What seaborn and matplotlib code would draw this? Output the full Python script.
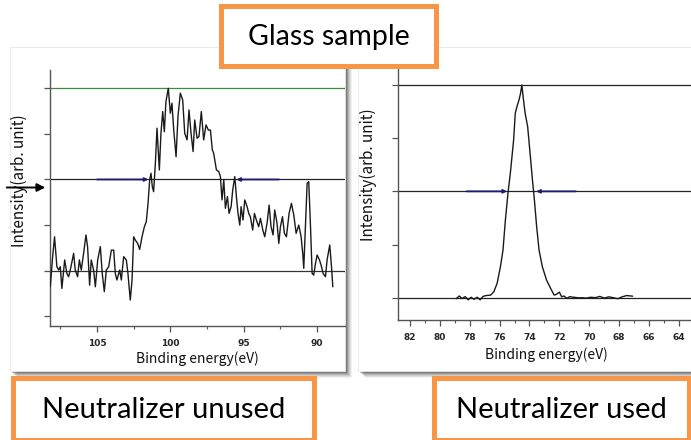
import matplotlib
matplotlib.use("Agg")
import matplotlib.pyplot as plt
import seaborn as sns
from matplotlib.patches import Rectangle, FancyArrowPatch

sns.set_style("white")
plt.rcParams['font.family'] = ['DejaVu Sans']

# ---------------- data ----------------
left_energy = [108.18, 108.02, 107.89, 107.73, 107.61, 107.5, 107.39, 107.2, 107.05, 106.93,
               106.77, 106.59, 106.48, 106.32, 106.2, 106.07, 105.91, 105.75, 105.64, 105.5,
               105.39, 105.23, 105.11, 104.95, 104.77, 104.64, 104.5, 104.36, 104.2, 104.02,
               103.86, 103.75, 103.64, 103.45, 103.34, 103.18, 103.0, 102.89, 102.73, 102.61,
               102.5, 102.39, 102.23, 102.09, 101.93, 101.77, 101.64, 101.52, 101.41, 101.32,
               101.23, 101.14, 101.02, 100.91, 100.84, 100.75, 100.64, 100.52, 100.41, 100.3,
               100.14, 100.0, 99.89, 99.77, 99.61, 99.48, 99.32, 99.16, 99.02, 98.86,
               98.73, 98.59, 98.45, 98.34, 98.18, 98.05, 97.89, 97.73, 97.57, 97.41,
               97.27, 97.14, 97.05, 96.86, 96.7, 96.59, 96.48, 96.36, 96.25, 96.11,
               96.0, 95.86, 95.75, 95.61, 95.5, 95.39, 95.27, 95.18, 95.05, 94.93,
               94.77, 94.66, 94.55, 94.39, 94.27, 94.14, 93.98, 93.86, 93.7, 93.57,
               93.41, 93.27, 93.14, 93.0, 92.89, 92.73, 92.61, 92.5, 92.36, 92.23,
               92.09, 91.91, 91.75, 91.59, 91.43, 91.25, 91.09, 90.98, 90.91, 90.8,
               90.68, 90.57, 90.45, 90.34, 90.23, 90.11, 90.0, 89.84, 89.73, 89.59,
               89.43, 89.32, 89.14, 89.02, 88.93]
left_intensity = [-0.088, 0.077, 0.186, 0.022, 0.004, 0.022, -0.097, 0.059, -0.015, -0.033,
                  0.022, 0.095, 0.004, -0.033, 0.059, 0.004, 0.095, 0.196, 0.132, -0.079,
                  0.059, 0.004, -0.088, 0.059, 0.132, -0.015, -0.115, 0.004, 0.022, 0.113,
                  0.113, -0.015, -0.051, 0.004, -0.051, 0.077, 0.059, -0.015, -0.161, -0.051,
                  0.186, 0.168, 0.15, 0.117, 0.186, 0.241, 0.269, 0.369, 0.497, 0.534,
                  0.461, 0.433, 0.589, 0.781, 0.68, 0.552, 0.753, 0.872, 0.762, 0.927,
                  1.0, 0.863, 0.918, 0.771, 0.625, 0.845, 0.973, 0.936, 0.753, 0.717,
                  0.881, 0.753, 0.653, 0.826, 0.726, 0.735, 0.872, 0.717, 0.799, 0.771,
                  0.771, 0.662, 0.644, 0.552, 0.543, 0.516, 0.388, 0.497, 0.342, 0.406,
                  0.314, 0.351, 0.442, 0.516, 0.406, 0.314, 0.25, 0.351, 0.278, 0.388,
                  0.351, 0.314, 0.296, 0.223, 0.314, 0.278, 0.241, 0.287, 0.223, 0.186,
                  0.26, 0.36, 0.241, 0.196, 0.333, 0.26, 0.15, 0.241, 0.296, 0.205,
                  0.186, 0.314, 0.369, 0.305, 0.205, 0.25, 0.186, 0.095, 0.013, 0.241,
                  0.479, 0.488, 0.241, -0.015, -0.024, 0.04, 0.086, 0.059, 0.031, -0.015,
                  -0.033, 0.059, 0.141, 0.022, -0.088]

right_energy = [78.9, 78.7, 78.5, 78.3, 78.1, 77.9, 77.7, 77.5, 77.3, 77.1,
                76.9, 76.6, 76.38, 76.16, 75.94, 75.77, 75.61, 75.44, 75.28, 75.06,
                74.95, 74.84, 74.7, 74.6, 74.51, 74.4, 74.29, 74.12, 73.96, 73.8,
                73.67, 73.52, 73.36, 73.14, 72.86, 72.53, 72.35, 72.2, 72.0, 71.85,
                71.7, 71.5, 71.3, 71.1, 70.9, 70.7, 70.5, 70.2, 69.9, 69.6,
                69.3, 69.0, 68.7, 68.4, 68.1, 67.8, 67.5, 67.1]
right_intensity = [-0.005, 0.008, -0.004, 0.005, -0.01, 0.002, -0.008, 0.002, -0.01, 0.006,
                   0.01, 0.012, 0.028, 0.068, 0.146, 0.224, 0.365, 0.49, 0.585, 0.741,
                   0.867, 0.898, 0.93, 0.96, 1.0, 0.93, 0.867, 0.804, 0.679, 0.553,
                   0.459, 0.334, 0.224, 0.146, 0.083, 0.036, 0.012, 0.016, 0.026, 0.004,
                   0.008, -0.003, 0.005, 0.002, 0.001, -0.001, 0.0, -0.002, 0.002, 0.0,
                   0.006, -0.002, 0.004, 0.0, -0.005, 0.004, 0.01, 0.007]

left_ticks = [105, 100, 95, 90]
right_ticks = [82, 80, 78, 76, 74, 72, 70, 68, 66, 64]
left_fwhm = [(105.0, 101.5), (92.6, 95.5)]
right_fwhm = [(78.2, 75.5), (70.9, 73.55)]

title_text = "Glass sample"
left_caption = "Neutralizer unused"
right_caption = "Neutralizer used"
xlabel = "Binding energy(eV)"
ylabel = "Intensity(arb. unit)"

# ---------------- figure ----------------
W, H = 691, 440
fig = plt.figure(figsize=(W / 100, H / 100), dpi=100)
fig.patch.set_facecolor("white")

def fx(x):
    return x / W

def fy(y):
    return 1 - y / H

def card(x0, y0, x1, y1):
    for off, a in [(7, 0.05), (6, 0.07), (5, 0.09), (4, 0.11), (3, 0.15), (2, 0.2)]:
        fig.patches.append(Rectangle((fx(x0 + off), fy(y1 + off)), fx(x1 - x0), (y1 - y0) / H,
                                     transform=fig.transFigure, facecolor="#000000",
                                     alpha=a, edgecolor="none", zorder=-5))
    fig.patches.append(Rectangle((fx(x0), fy(y1)), fx(x1 - x0), (y1 - y0) / H,
                                 transform=fig.transFigure, facecolor="white",
                                 edgecolor="#e6e6e6", lw=0.6, zorder=-4))

card(10, 47, 345, 371)
card(358, 47, 694, 371)

def orange_box(x0, y0, x1, y1, text, fs):
    fig.patches.append(Rectangle((fx(x0), fy(y1)), fx(x1 - x0), (y1 - y0) / H,
                                 transform=fig.transFigure, facecolor="white",
                                 edgecolor="#F79646", lw=3.6, zorder=10))
    fig.text(fx((x0 + x1) / 2), fy((y0 + y1) / 2 + 1), text, ha="center", va="center",
             fontsize=fs, family=["Lato", "DejaVu Sans"], color="black", zorder=11)

def setup_axes(ax, xlim, ylim, yticks, xticks, minor):
    ax.set_facecolor("none")
    ax.set_xlim(*xlim)
    ax.set_ylim(*ylim)
    for s in ["top", "right"]:
        ax.spines[s].set_visible(False)
    for s in ["left", "bottom"]:
        ax.spines[s].set_color("#555555")
        ax.spines[s].set_linewidth(1.0)
    ax.set_yticks(yticks)
    ax.set_yticklabels([])
    ax.set_xticks(xticks)
    ax.set_xticklabels([str(t) for t in xticks], fontsize=6.5, fontweight="bold")
    ax.set_xticks(minor, minor=True)
    ax.tick_params(axis="both", which="major", direction="out", length=4, width=0.9,
                   color="#555555", pad=5, bottom=True, left=True)
    ax.tick_params(axis="x", which="minor", direction="out", length=2.5, width=0.8,
                   color="#555555", bottom=True)
    ax.set_xlabel("")
    ax.set_ylabel("")

# Left axes
axL = fig.add_axes([fx(50), fy(326), fx(345 - 50), (326 - 70) / H])
setup_axes(axL, (108.2, 88.1), (-0.303, 1.1), [-0.25, 0, 0.25, 0.5, 0.75, 1.0],
           left_ticks, [107.5, 102.5, 97.5, 92.5])
for yv, c in [(0.0, "#333333"), (0.5, "#222222"), (1.0, "#3c8c3c")]:
    axL.axhline(yv, color=c, lw=0.9, zorder=1)
sns.lineplot(x=left_energy, y=left_intensity, ax=axL, color="#1a1a1a", lw=1.0,
             sort=False, estimator=None, zorder=3)
for a, b in left_fwhm:
    axL.annotate("", xy=(b, 0.5), xytext=(a, 0.5),
                 arrowprops=dict(arrowstyle="-|>", color="#1c1c78", lw=1.3,
                                 mutation_scale=5, shrinkA=0, shrinkB=0), zorder=4)

# Right axes
axR = fig.add_axes([fx(397.7), fy(320), fx(694 - 397.7), (320 - 68) / H])
setup_axes(axR, (82.81, 63.23), (-0.105, 1.08), [0, 0.25, 0.5, 0.75, 1.0],
           right_ticks, [81, 79, 77, 75, 73, 71, 69, 67, 65, 63])
for yv in [0.0, 0.5, 1.0]:
    axR.axhline(yv, color="#222222", lw=0.9, zorder=1)
sns.lineplot(x=right_energy, y=right_intensity, ax=axR, color="#1a1a1a", lw=1.0,
             sort=False, estimator=None, zorder=3)
for a, b in right_fwhm:
    axR.annotate("", xy=(b, 0.5), xytext=(a, 0.5),
                 arrowprops=dict(arrowstyle="-|>", color="#1c1c78", lw=1.3,
                                 mutation_scale=5, shrinkA=0, shrinkB=0), zorder=4)

# Axis labels
lab_font = ["Noto Sans CJK JP", "DejaVu Sans"]
fig.text(fx(197.5), fy(359), xlabel, ha="center", va="center", fontsize=10,
         family=lab_font, color="#111111")
fig.text(fx(546), fy(355), xlabel, ha="center", va="center", fontsize=10,
         family=lab_font, color="#111111")
fig.text(fx(19), fy(181), ylabel, ha="center", va="center", rotation=90, fontsize=11,
         family=lab_font, color="#111111")
fig.text(fx(368), fy(175), ylabel, ha="center", va="center", rotation=90, fontsize=11,
         family=lab_font, color="#111111")

# Black pointer arrow on the left
fig.patches.append(FancyArrowPatch((fx(4), fy(187.5)), (fx(48), fy(187.5)),
                                   transform=fig.transFigure, arrowstyle="-|>",
                                   mutation_scale=12, lw=1.4, color="black", zorder=6))

# Orange boxes
orange_box(221, 6, 436, 66, title_text, 20.5)
orange_box(13, 378, 314, 440, left_caption, 21)
orange_box(434, 378, 689, 440, right_caption, 21)

fig.savefig("out.png", dpi=100)
